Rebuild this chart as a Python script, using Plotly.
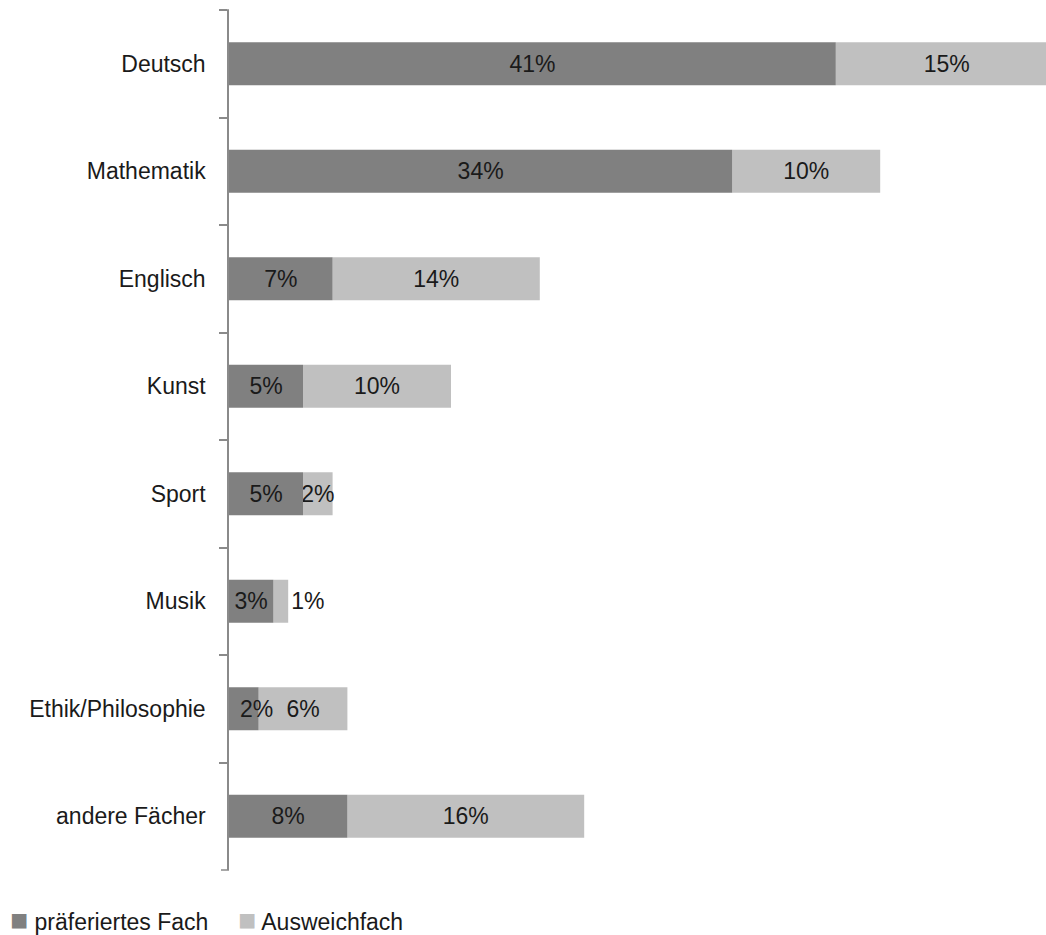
import plotly.graph_objects as go

# Subjects (top to bottom) and shares in percent
faecher = ["Deutsch", "Mathematik", "Englisch", "Kunst", "Sport", "Musik",
           "Ethik/Philosophie", "andere Fächer"]
praeferiert = [41, 34, 7, 5, 5, 3, 2, 8]
ausweich = [15, 10, 14, 10, 2, 1, 6, 16]

series_names = ["präferiertes Fach", "Ausweichfach"]
colors = ["#808080", "#c0c0c0"]

FONT = "Liberation Sans, Arial, sans-serif"
TEXT_COLOR = "#1a1a1a"
AXIS_COLOR = "#8a8a8a"

fig = go.Figure()

# second segment: starts where the preferred share ends
# (added first so the labels of the first segment stay on top)
aus_pos = ["outside" if v <= 1 else "inside" for v in ausweich]
fig.add_trace(go.Bar(
    y=faecher, x=ausweich, base=praeferiert, orientation="h",
    name=series_names[1],
    marker=dict(color=colors[1], line=dict(width=0)),
    text=[f"{v}%" for v in ausweich],
    textposition=aus_pos, insidetextanchor="middle", textangle=0,
    constraintext="none", cliponaxis=True,
    textfont=dict(family=FONT, size=23, color=TEXT_COLOR),
    showlegend=False, hoverinfo="skip",
))

# labels of very narrow first-segment bars are nudged away from the axis line
NBSP = "\u00a0"
pref_text = [(NBSP * 4 if v <= 2 else "") + f"{v}%" for v in praeferiert]

fig.add_trace(go.Bar(
    y=faecher, x=praeferiert, orientation="h", name=series_names[0],
    marker=dict(color=colors[0], line=dict(width=0)),
    text=pref_text,
    textposition="inside", insidetextanchor="middle", textangle=0,
    constraintext="none",
    textfont=dict(family=FONT, size=23, color=TEXT_COLOR),
    showlegend=False, hoverinfo="skip",
))

PLOT_L, PLOT_T, PLOT_B = 229, 10, 870
W, H = 1046, 935
plot_w = W - PLOT_L
plot_h = PLOT_B - PLOT_T
px_per_pct = 14.8
TICK_LEN = 8

fig.update_layout(
    width=W, height=H,
    margin=dict(l=PLOT_L, r=0, t=PLOT_T, b=H - PLOT_B, pad=0),
    barmode="overlay", bargap=0.6,
    plot_bgcolor="white", paper_bgcolor="white",
    font=dict(family=FONT, size=23, color=TEXT_COLOR),
    xaxis=dict(range=[0, plot_w / px_per_pct], visible=False,
               showgrid=False, zeroline=False, fixedrange=True),
    yaxis=dict(type="category", autorange="reversed",
               showline=True, linecolor=AXIS_COLOR, linewidth=1.5,
               ticks="outside", tickson="boundaries", ticklen=TICK_LEN,
               tickcolor=AXIS_COLOR, tickwidth=1.5,
               ticklabelstandoff=17, showgrid=False, zeroline=False,
               tickfont=dict(family=FONT, size=23, color=TEXT_COLOR)),
)

# tick marks closing both ends of the category axis
for yy in (0, 1):
    fig.add_shape(type="line", xref="paper", yref="paper",
                  x0=-TICK_LEN / plot_w, x1=0, y0=yy, y1=yy,
                  line=dict(color=AXIS_COLOR, width=1.5), layer="above")

# legend drawn as a single text row below the plot
leg_y = (PLOT_B - 919) / plot_h
leg_x = [(8 - PLOT_L) / plot_w, (236 - PLOT_L) / plot_w]
for name, col, lx in zip(series_names, colors, leg_x):
    fig.add_annotation(
        xref="paper", yref="paper", x=lx, y=leg_y,
        xanchor="left", yanchor="middle", showarrow=False,
        text=f"<span style='color:{col};font-size:30px'>■</span> {name}",
        font=dict(family=FONT, size=23, color=TEXT_COLOR),
    )

fig.write_html("out.html")
